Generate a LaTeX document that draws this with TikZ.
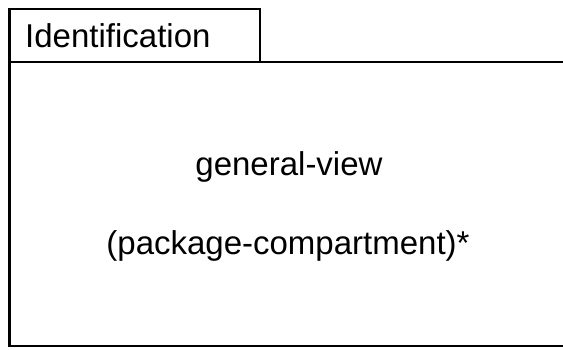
\documentclass[tikz,border=0pt]{standalone}
\usepackage{fontspec}
\setmainfont{Liberation Sans}
\begin{document}
\begin{tikzpicture}[x=1pt,y=-1pt,
  frame/.style={draw=black,line width=2.6pt},
  lbl/.style={font=\fontsize{33}{40}\selectfont,inner sep=0pt,anchor=base}]
\useasboundingbox (0,0) rectangle (563,349);
\draw[frame] (9.5,62) rectangle (580,346);
\draw[frame] (9.5,9) rectangle (260,62);
\node[lbl,anchor=base west] (id) at (25,47) {Identification};
\node[lbl] (gv) at (289,175) {general-view};
\node[lbl] (pc) at (288,254) {(package-compartment)*};
\end{tikzpicture}
\end{document}
